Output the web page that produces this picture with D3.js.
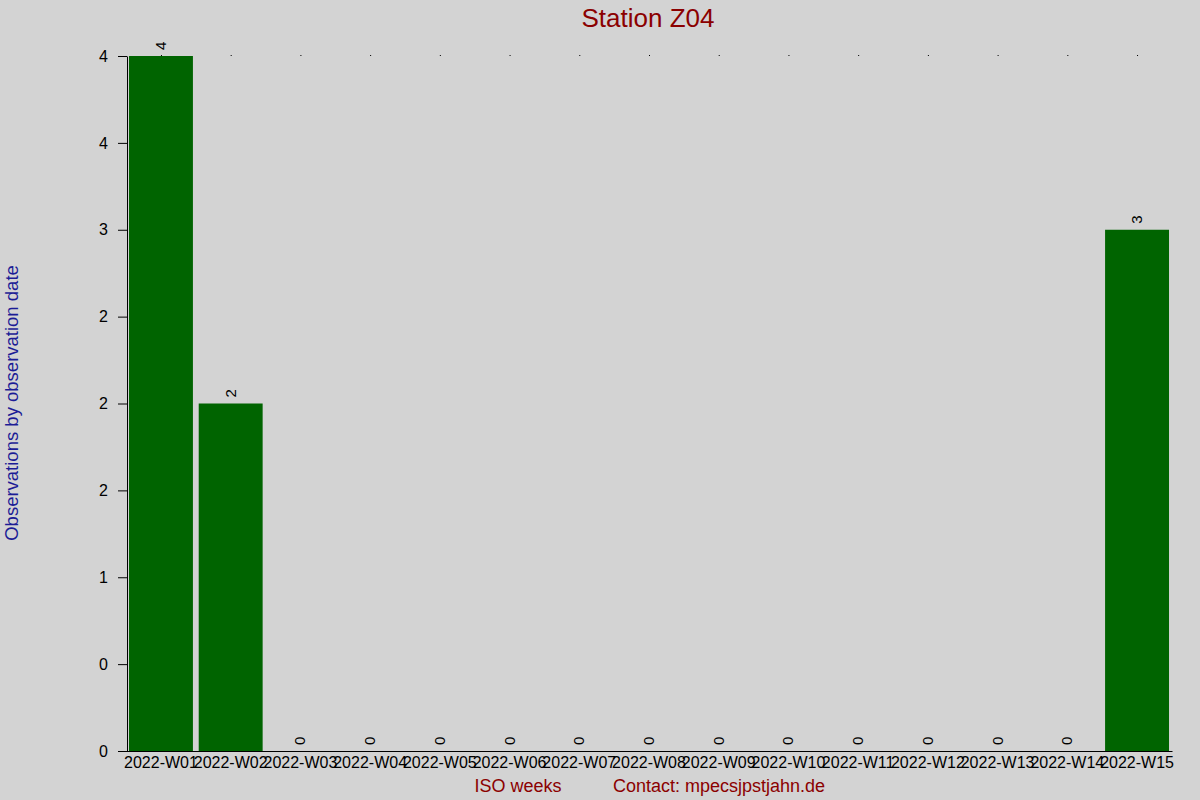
<!DOCTYPE html>
<html>
<head>
<meta charset="utf-8">
<script src="https://cdn.jsdelivr.net/npm/d3@7"></script>
<style>
  body { margin: 0; background: #d3d3d3; }
  svg { display: block; font-family: "Liberation Sans", Arial, sans-serif; }
</style>
</head>
<body>
<div id="chart"></div>
<script>
// data
const weeks = ["2022-W01", "2022-W02", "2022-W03", "2022-W04", "2022-W05", "2022-W06", "2022-W07",
    "2022-W08", "2022-W09", "2022-W10", "2022-W11", "2022-W12", "2022-W13", "2022-W14", "2022-W15"];
const counts = [4, 2, 0, 0, 0, 0, 0, 0, 0, 0, 0, 0, 0, 0, 3];
const yTicks = [0, 0.5, 1, 1.5, 2, 2.5, 3, 3.5, 4];
const yTickLabels = ["0", "0", "1", "2", "2", "2", "3", "4", "4"];

const svgWidth = 1200,
    svgHeight = 800,
    margin = { top: 56, right: 27, bottom: 49, left: 127 },
    width = svgWidth - margin.left - margin.right,
    height = svgHeight - margin.top - margin.bottom;

let svg = d3.select("#chart").append("svg")
    .attr("width", svgWidth)
    .attr("height", svgHeight);

svg.append("rect")
    .attr("width", svgWidth)
    .attr("height", svgHeight)
    .attr("fill", "#d3d3d3");

let g = svg.append("g")
    .attr("transform", `translate(${margin.left}, ${margin.top})`);

// scales
let xScale = d3.scaleBand()
    .domain(weeks)
    .range([-0.8, width - 1.2])
    .paddingInner(0.083)
    .paddingOuter(0.04);
let yScale = d3.scaleLinear()
    .domain([0, 4])
    .range([height, 0]);

// bars
g.selectAll("rect.bar")
    .data(weeks)
    .join("rect")
    .attr("class", "bar")
    .attr("x", (d) => xScale(d))
    .attr("y", (d, i) => yScale(counts[i]))
    .attr("width", xScale.bandwidth())
    .attr("height", (d, i) => height - yScale(counts[i]))
    .attr("fill", "#006400");

// tiny marks at the top of each band
g.selectAll("rect.dot")
    .data(weeks)
    .join("rect")
    .attr("class", "dot")
    .attr("x", (d) => xScale(d) + xScale.bandwidth() / 2)
    .attr("y", yScale(4) - 1)
    .attr("width", 1)
    .attr("height", 1)
    .attr("fill", "#000");

// value labels
g.selectAll("text.value")
    .data(weeks)
    .join("text")
    .attr("class", "value")
    .attr("transform", (d, i) => `translate(${xScale(d) + xScale.bandwidth() / 2 + 5}, ${yScale(counts[i]) - 6}) rotate(-90)`)
    .attr("font-size", 15)
    .attr("fill", "#000")
    .text((d, i) => counts[i]);

// y axis
let yAxis = g.append("g")
    .call(d3.axisLeft(yScale)
        .tickValues(yTicks)
        .tickFormat((d, i) => yTickLabels[i])
        .tickSize(9)
        .tickSizeOuter(0)
        .tickPadding(10));
yAxis.selectAll("text").attr("font-size", 16).attr("font-family", "Liberation Sans, Arial, sans-serif").attr("fill", "#000");
yAxis.select(".domain").attr("stroke", "#000");

// x axis
let xAxis = g.append("g")
    .attr("transform", `translate(0, ${height})`)
    .call(d3.axisBottom(xScale).tickSize(0).tickPadding(6).tickSizeOuter(0));
xAxis.select(".domain").attr("d", `M-9,0.5H${width - 0.5}`).attr("stroke", "#000");
xAxis.selectAll("text").attr("font-size", 16).attr("font-family", "Liberation Sans, Arial, sans-serif").attr("fill", "#000");

// title & labels
svg.append("text")
    .attr("x", 648)
    .attr("y", 27)
    .attr("text-anchor", "middle")
    .attr("font-size", 26)
    .attr("fill", "#8b0000")
    .text("Station Z04");

svg.append("text")
    .attr("x", 518)
    .attr("y", 792)
    .attr("text-anchor", "middle")
    .attr("font-size", 18)
    .attr("fill", "#8b0000")
    .text("ISO weeks");

svg.append("text")
    .attr("x", 719)
    .attr("y", 792)
    .attr("text-anchor", "middle")
    .attr("font-size", 18)
    .attr("fill", "#8b0000")
    .text("Contact: mpecsjpstjahn.de");

svg.append("text")
    .attr("transform", "translate(18, 403) rotate(-90)")
    .attr("text-anchor", "middle")
    .attr("font-size", 18.5)
    .attr("fill", "#1c1c96")
    .text("Observations by observation date");
</script>
</body>
</html>
